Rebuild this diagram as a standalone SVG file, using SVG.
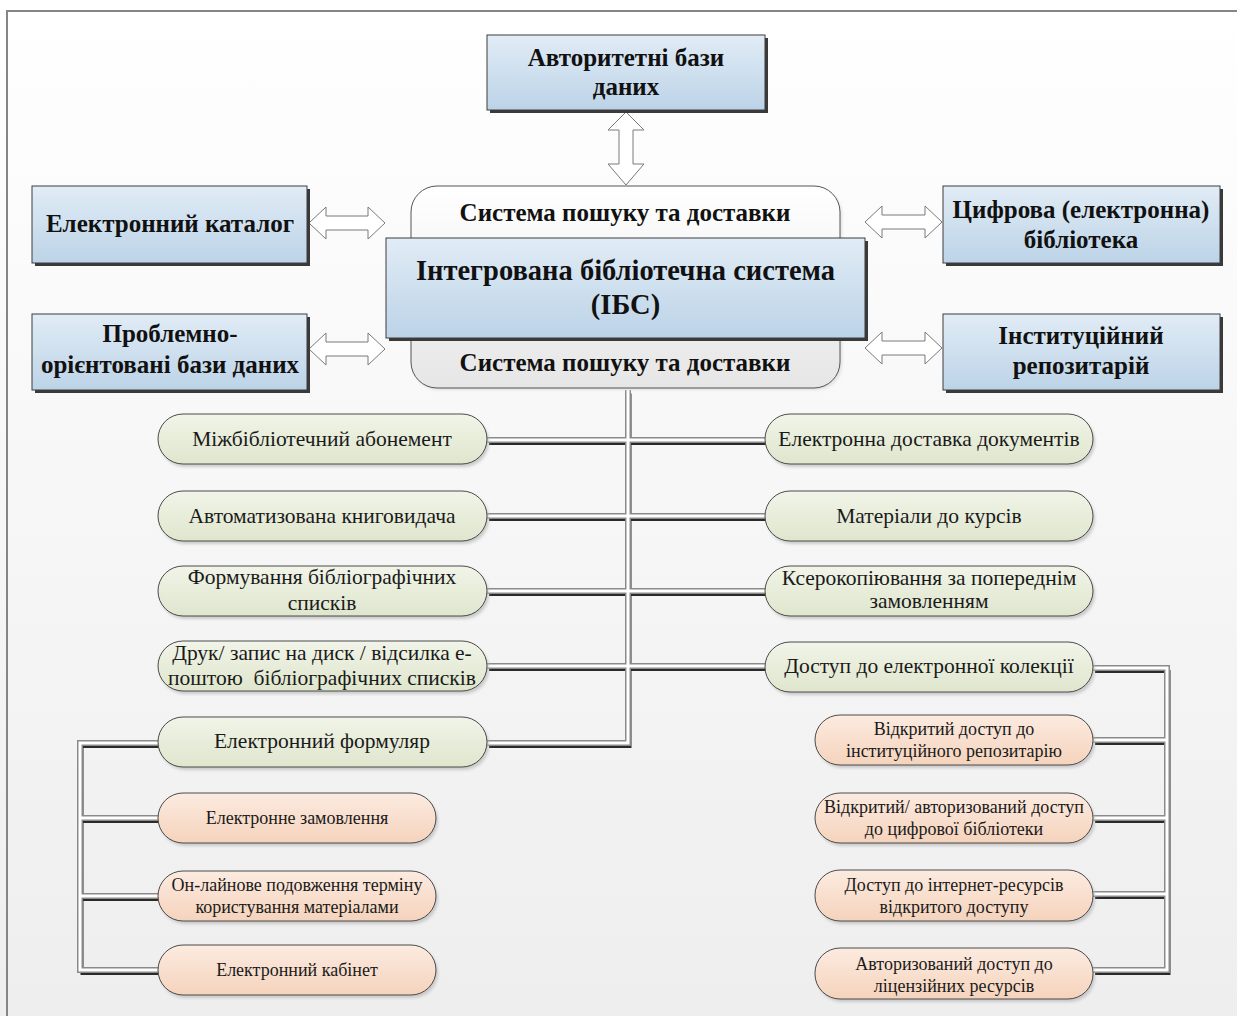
<svg xmlns="http://www.w3.org/2000/svg" xmlns:xlink="http://www.w3.org/1999/xlink" width="1237" height="1016" viewBox="0 0 1237 1016">
  <defs>
    <linearGradient id="bg" x1="0" y1="0" x2="0" y2="1">
      <stop offset="0" stop-color="#ffffff"/>
      <stop offset="1" stop-color="#eeeeee"/>
    </linearGradient>
    <linearGradient id="blue" x1="0" y1="0" x2="0" y2="1">
      <stop offset="0" stop-color="#e1ecf6"/>
      <stop offset="1" stop-color="#bcd3e7"/>
    </linearGradient>
    <linearGradient id="frame" x1="0" y1="0" x2="0" y2="1">
      <stop offset="0" stop-color="#ffffff"/>
      <stop offset="1" stop-color="#e6e6e6"/>
    </linearGradient>
    <linearGradient id="green" x1="0" y1="0" x2="0" y2="1">
      <stop offset="0" stop-color="#f1f4e8"/>
      <stop offset="1" stop-color="#dfe6cd"/>
    </linearGradient>
    <linearGradient id="orange" x1="0" y1="0" x2="0" y2="1">
      <stop offset="0" stop-color="#fcebe0"/>
      <stop offset="1" stop-color="#f5d3bc"/>
    </linearGradient>
    <filter id="soft" x="-10%" y="-10%" width="130%" height="140%">
      <feGaussianBlur stdDeviation="1.5"/>
    </filter>
  </defs>
  <style>
    .box { fill: url(#blue); stroke: #3c3c3c; stroke-width: 1; }
    .boxshadow { fill: #3a3a3a; }
    .pillshadow { fill: #b8b8b8; opacity: 0.7; filter: url(#soft); }
    .green { fill: url(#green); stroke: #4a4a4a; stroke-width: 1; }
    .orange { fill: url(#orange); stroke: #4a4a4a; stroke-width: 1; }
    .arrow { fill: #ffffff; stroke: #7a7a7a; stroke-width: 1; }
    .bt { font-family: "Liberation Serif", "Times New Roman", serif; font-weight: bold; font-size: 25px; fill: #111; text-anchor: middle; }
    .big { font-size: 28.5px; }
    .gt { font-family: "Liberation Serif", "Times New Roman", serif; font-size: 21.5px; fill: #1a1a1a; text-anchor: middle; }
    .ot { font-family: "Liberation Serif", "Times New Roman", serif; font-size: 18px; fill: #1a1a1a; text-anchor: middle; }
    .c-shadow { fill: none; stroke: #2a2a2a; stroke-width: 3; }
    .c-edge { fill: none; stroke: #8a8a8a; stroke-width: 6; }
    .c-core { fill: none; stroke: #ffffff; stroke-width: 3; }
  </style>

  <!-- page background and frame lines -->
  <rect x="0" y="0" width="1237" height="1016" fill="url(#bg)"/>
  <path d="M7 1016 V11 H1237" fill="none" stroke="#858585" stroke-width="2"/>

  <!-- connectors: double-rule lines with a dark drop shadow -->
  <g id="connectors">
    <defs>
      <path id="trunk" d="M628 390 V743 H487"/>
      <path id="r1" d="M487 440 H765"/>
      <path id="r2" d="M487 516 H765"/>
      <path id="r3" d="M487 591 H765"/>
      <path id="r4" d="M487 666 H765"/>
      <path id="lb" d="M158 743 H80 V970 H158 M80 818 H158 M80 896 H158"/>
      <path id="rb" d="M1093 668 H1167 V970 H1093 M1167 740 H1093 M1167 818 H1093 M1167 894 H1093"/>
    </defs>
    <g transform="translate(2,3.5)">
      <use xlink:href="#trunk" class="c-shadow"/>
      <use xlink:href="#r1" class="c-shadow"/>
      <use xlink:href="#r2" class="c-shadow"/>
      <use xlink:href="#r3" class="c-shadow"/>
      <use xlink:href="#r4" class="c-shadow"/>
      <use xlink:href="#lb" class="c-shadow"/>
      <use xlink:href="#rb" class="c-shadow"/>
    </g>
    <use xlink:href="#trunk" class="c-edge"/>
    <use xlink:href="#r1" class="c-edge"/>
    <use xlink:href="#r2" class="c-edge"/>
    <use xlink:href="#r3" class="c-edge"/>
    <use xlink:href="#r4" class="c-edge"/>
    <use xlink:href="#lb" class="c-edge"/>
    <use xlink:href="#rb" class="c-edge"/>
    <use xlink:href="#trunk" class="c-core"/>
    <use xlink:href="#r1" class="c-core"/>
    <use xlink:href="#r2" class="c-core"/>
    <use xlink:href="#r3" class="c-core"/>
    <use xlink:href="#r4" class="c-core"/>
    <use xlink:href="#lb" class="c-core"/>
    <use xlink:href="#rb" class="c-core"/>

    <!-- block arrows between the core system and the outer resources -->
    <path class="arrow" d="M626 112 L644 130 L633 130 L633 164 L644 164 L626 185 L608 164 L619 164 L619 130 L608 130 Z"/>
    <path class="arrow" d="M309 223 L326 207 L326 216 L368 216 L368 207 L385 223 L368 239 L368 230 L326 230 L326 239 Z"/>
    <path class="arrow" d="M309 349 L326 333 L326 342 L368 342 L368 333 L385 349 L368 365 L368 356 L326 356 L326 365 Z"/>
    <path class="arrow" d="M865 222 L882 206 L882 215 L925 215 L925 206 L942 222 L925 238 L925 229 L882 229 L882 238 Z"/>
    <path class="arrow" d="M865 348 L882 332 L882 341 L925 341 L925 332 L942 348 L925 364 L925 355 L882 355 L882 364 Z"/>
  </g>

  <!-- search & delivery frame around the core -->
  <g id="search-frame">
    <rect x="413" y="189" width="429" height="201" rx="26" fill="#cfcfcf" opacity="0.6" filter="url(#soft)"/>
    <rect x="411" y="186" width="429" height="202" rx="26" fill="url(#frame)" stroke="#555" stroke-width="1"/>
    <text class="bt" x="625" y="221">Система пошуку та доставки</text>
    <text class="bt" x="625" y="371">Система пошуку та доставки</text>
  </g>

  <g id="ibs">
    <rect x="389" y="241" width="479" height="100" class="boxshadow"/>
    <rect x="386" y="238" width="479" height="100" class="box"/>
    <text class="bt big" x="625.5" y="280">Інтегрована бібліотечна система</text>
    <text class="bt big" x="625.5" y="314">(ІБС)</text>
  </g>

  <g id="authority-db">
    <rect x="490" y="38" width="278" height="75" class="boxshadow"/>
    <rect x="487" y="35" width="278" height="75" class="box"/>
    <text class="bt" x="626" y="66">Авторитетні бази</text>
    <text class="bt" x="626" y="95">даних</text>
  </g>

  <g id="e-catalog">
    <rect x="35" y="189" width="275" height="77" class="boxshadow"/>
    <rect x="32" y="186" width="275" height="77" class="box"/>
    <text class="bt" x="170" y="232">Електронний каталог</text>
  </g>

  <g id="problem-db">
    <rect x="35" y="317" width="275" height="76" class="boxshadow"/>
    <rect x="32" y="314" width="275" height="76" class="box"/>
    <text class="bt" x="170" y="342">Проблемно-</text>
    <text class="bt" x="170" y="373">орієнтовані бази даних</text>
  </g>

  <g id="digital-library">
    <rect x="946" y="189" width="277" height="77" class="boxshadow"/>
    <rect x="943" y="186" width="277" height="77" class="box"/>
    <text class="bt" x="1081" y="218">Цифрова (електронна)</text>
    <text class="bt" x="1081" y="248">бібліотека</text>
  </g>

  <g id="repository">
    <rect x="946" y="317" width="277" height="76" class="boxshadow"/>
    <rect x="943" y="314" width="277" height="76" class="box"/>
    <text class="bt" x="1081" y="344">Інституційний</text>
    <text class="bt" x="1081" y="374">репозитарій</text>
  </g>

  <!-- services, left column -->
  <g id="ill">
    <rect x="160" y="417" width="329" height="50" rx="25" class="pillshadow"/>
    <rect x="158" y="414" width="329" height="50" rx="25" class="green"/>
    <text class="gt" x="322" y="446">Міжбібліотечний абонемент</text>
  </g>
  <g id="circulation">
    <rect x="160" y="494" width="329" height="50" rx="25" class="pillshadow"/>
    <rect x="158" y="491" width="329" height="50" rx="25" class="green"/>
    <text class="gt" x="322" y="523">Автоматизована книговидача</text>
  </g>
  <g id="bibliographies">
    <rect x="160" y="569" width="329" height="50" rx="25" class="pillshadow"/>
    <rect x="158" y="566" width="329" height="50" rx="25" class="green"/>
    <text class="gt" x="322" y="584">Формування бібліографічних</text>
    <text class="gt" x="322" y="610">списків</text>
  </g>
  <g id="print-export">
    <rect x="160" y="644" width="329" height="50" rx="25" class="pillshadow"/>
    <rect x="158" y="641" width="329" height="50" rx="25" class="green"/>
    <text class="gt" x="322" y="660">Друк/ запис на диск / відсилка е-</text>
    <text class="gt" x="322" y="685" xml:space="preserve">поштою  бібліографічних списків</text>
  </g>
  <g id="e-form">
    <rect x="160" y="720" width="329" height="50" rx="25" class="pillshadow"/>
    <rect x="158" y="717" width="329" height="50" rx="25" class="green"/>
    <text class="gt" x="322" y="748">Електронний формуляр</text>
  </g>

  <!-- services, right column -->
  <g id="doc-delivery">
    <rect x="767" y="417" width="328" height="50" rx="25" class="pillshadow"/>
    <rect x="765" y="414" width="328" height="50" rx="25" class="green"/>
    <text class="gt" x="929" y="446">Електронна доставка документів</text>
  </g>
  <g id="course-materials">
    <rect x="767" y="494" width="328" height="50" rx="25" class="pillshadow"/>
    <rect x="765" y="491" width="328" height="50" rx="25" class="green"/>
    <text class="gt" x="929" y="523">Матеріали до курсів</text>
  </g>
  <g id="photocopy">
    <rect x="767" y="569" width="328" height="50" rx="25" class="pillshadow"/>
    <rect x="765" y="566" width="328" height="50" rx="25" class="green"/>
    <text class="gt" x="929" y="585">Ксерокопіювання за попереднім</text>
    <text class="gt" x="929" y="608">замовленням</text>
  </g>
  <g id="e-collection">
    <rect x="767" y="645" width="328" height="50" rx="25" class="pillshadow"/>
    <rect x="765" y="642" width="328" height="50" rx="25" class="green"/>
    <text class="gt" x="929" y="673">Доступ до електронної колекції</text>
  </g>

  <!-- electronic form sub-services -->
  <g id="e-order">
    <rect x="160" y="796" width="278" height="50" rx="25" class="pillshadow"/>
    <rect x="158" y="793" width="278" height="50" rx="25" class="orange"/>
    <text class="ot" x="297" y="824">Електронне замовлення</text>
  </g>
  <g id="renewal">
    <rect x="160" y="874" width="278" height="50" rx="25" class="pillshadow"/>
    <rect x="158" y="871" width="278" height="50" rx="25" class="orange"/>
    <text class="ot" x="297" y="891">Он-лайнове подовження терміну</text>
    <text class="ot" x="297" y="913">користування матеріалами</text>
  </g>
  <g id="e-cabinet">
    <rect x="160" y="948" width="278" height="50" rx="25" class="pillshadow"/>
    <rect x="158" y="945" width="278" height="50" rx="25" class="orange"/>
    <text class="ot" x="297" y="976">Електронний кабінет</text>
  </g>

  <!-- electronic collection sub-services -->
  <g id="open-repository">
    <rect x="817" y="718" width="278" height="50" rx="25" class="pillshadow"/>
    <rect x="815" y="715" width="278" height="50" rx="25" class="orange"/>
    <text class="ot" x="954" y="735">Відкритий доступ до</text>
    <text class="ot" x="954" y="757">інституційного репозитарію</text>
  </g>
  <g id="digital-access">
    <rect x="817" y="796" width="278" height="50" rx="25" class="pillshadow"/>
    <rect x="815" y="793" width="278" height="50" rx="25" class="orange"/>
    <text class="ot" x="954" y="813">Відкритий/ авторизований доступ</text>
    <text class="ot" x="954" y="835">до цифрової бібліотеки</text>
  </g>
  <g id="internet-resources">
    <rect x="817" y="873" width="278" height="51" rx="25" class="pillshadow"/>
    <rect x="815" y="870" width="278" height="51" rx="25" class="orange"/>
    <text class="ot" x="954" y="891">Доступ до інтернет-ресурсів</text>
    <text class="ot" x="954" y="913">відкритого доступу</text>
  </g>
  <g id="licensed-resources">
    <rect x="817" y="951" width="278" height="51" rx="25" class="pillshadow"/>
    <rect x="815" y="948" width="278" height="51" rx="25" class="orange"/>
    <text class="ot" x="954" y="970">Авторизований доступ до</text>
    <text class="ot" x="954" y="992">ліцензійних ресурсів</text>
  </g>
</svg>
